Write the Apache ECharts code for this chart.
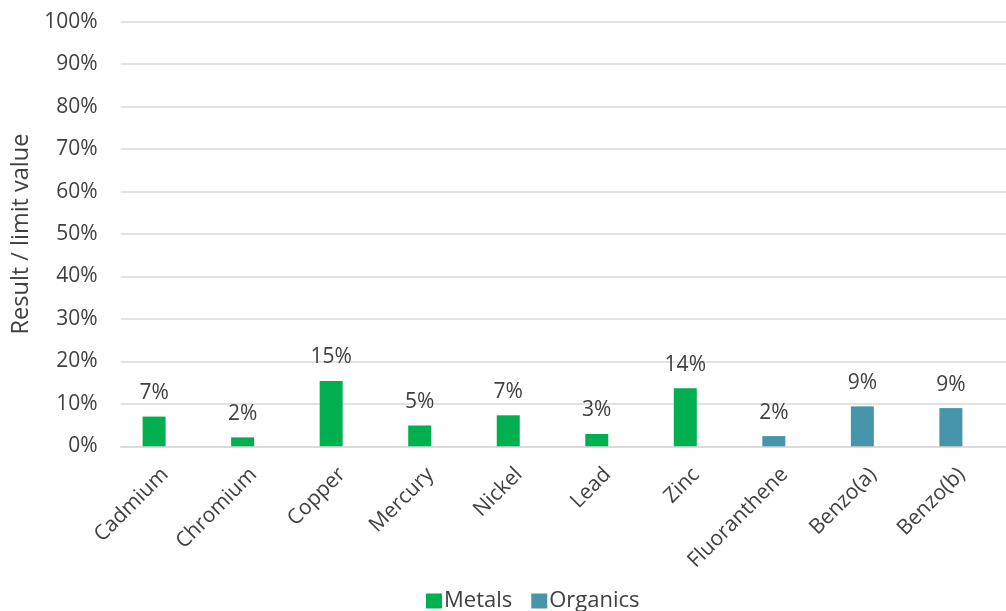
<!DOCTYPE html>
<html>
<head>
<meta charset="utf-8">
<script src="https://cdn.jsdelivr.net/npm/echarts@6/dist/echarts.min.js"></script>
<style>
html,body{margin:0;padding:0;background:#fff;}
#chart{width:1006px;height:611px;}
</style>
</head>
<body>
<div id="chart"></div>
<script>
var categories = ['Cadmium','Chromium','Copper','Mercury','Nickel','Lead','Zinc','Fluoranthene','Benzo(a)','Benzo(b)'];
var metals =   [7.0, 2.1, 15.4, 4.9, 7.3, 2.9, 13.7, null, null, null];
var organics = [null, null, null, null, null, null, null, 2.4, 9.4, 9.0];
var yTicks = [0,10,20,30,40,50,60,70,80,90,100];

function toData(arr){ return arr.map(function(v){ return v === null ? '-' : v; }); }
var labelFmt = function(p){ return Math.round(p.value) + '%'; };
var font = 'Open Sans';
var txt = '#404040';

var chart = echarts.init(document.getElementById('chart'));
chart.setOption({
  animation: false,
  textStyle: { fontFamily: font },
  grid: { left: 120.7, right: -14, top: 21.7, bottom: 164.7, containLabel: false },
  legend: {
    data: ['Metals','Organics'],
    left: 421, top: 585,
    itemWidth: 16, itemHeight: 15, itemGap: 19,
    icon: 'rect',
    textStyle: { fontSize: 22, color: txt, fontFamily: font, padding: [0,0,0,-3] }
  },
  xAxis: {
    type: 'category',
    data: categories,
    axisTick: { show: false },
    axisLine: { lineStyle: { color: '#D9D9D9', width: 1.5 } },
    axisLabel: { rotate: 45, fontSize: 21, color: txt, margin: 25, fontFamily: font, interval: 0 }
  },
  yAxis: {
    type: 'value',
    min: 0, max: 100, interval: 10,
    name: 'Result / limit value',
    nameLocation: 'middle',
    nameGap: 82,
    nameTextStyle: { fontSize: 23.5, color: txt, fontFamily: font },
    axisLine: { show: false },
    axisTick: { show: false },
    splitLine: { lineStyle: { color: '#D9D9D9', width: 1.5 } },
    axisLabel: { fontSize: 21, color: txt, margin: 23, fontFamily: font,
      formatter: function(v){ return yTicks.indexOf(v) >= 0 ? v + '%' : ''; } }
  },
  series: [
    {
      name: 'Metals', type: 'bar', stack: 'a', barWidth: 23, barGap: '-5.7%',
      data: toData(metals),
      itemStyle: { color: '#00B050' },
      label: { show: true, position: 'top', distance: 13, fontSize: 21, color: txt, fontFamily: font, formatter: labelFmt }
    },
    {
      name: 'Organics', type: 'bar', stack: 'a', barWidth: 23, barGap: '-5.7%',
      data: toData(organics),
      itemStyle: { color: '#4695AA' },
      label: { show: true, position: 'top', distance: 13, fontSize: 21, color: txt, fontFamily: font, formatter: labelFmt }
    },
    {
      name: 'spacer', type: 'bar', stack: 'b', barWidth: 23, barGap: '-5.7%',
      data: categories.map(function(){ return '-'; }),
      silent: true
    }
  ]
});
</script>
</body>
</html>
